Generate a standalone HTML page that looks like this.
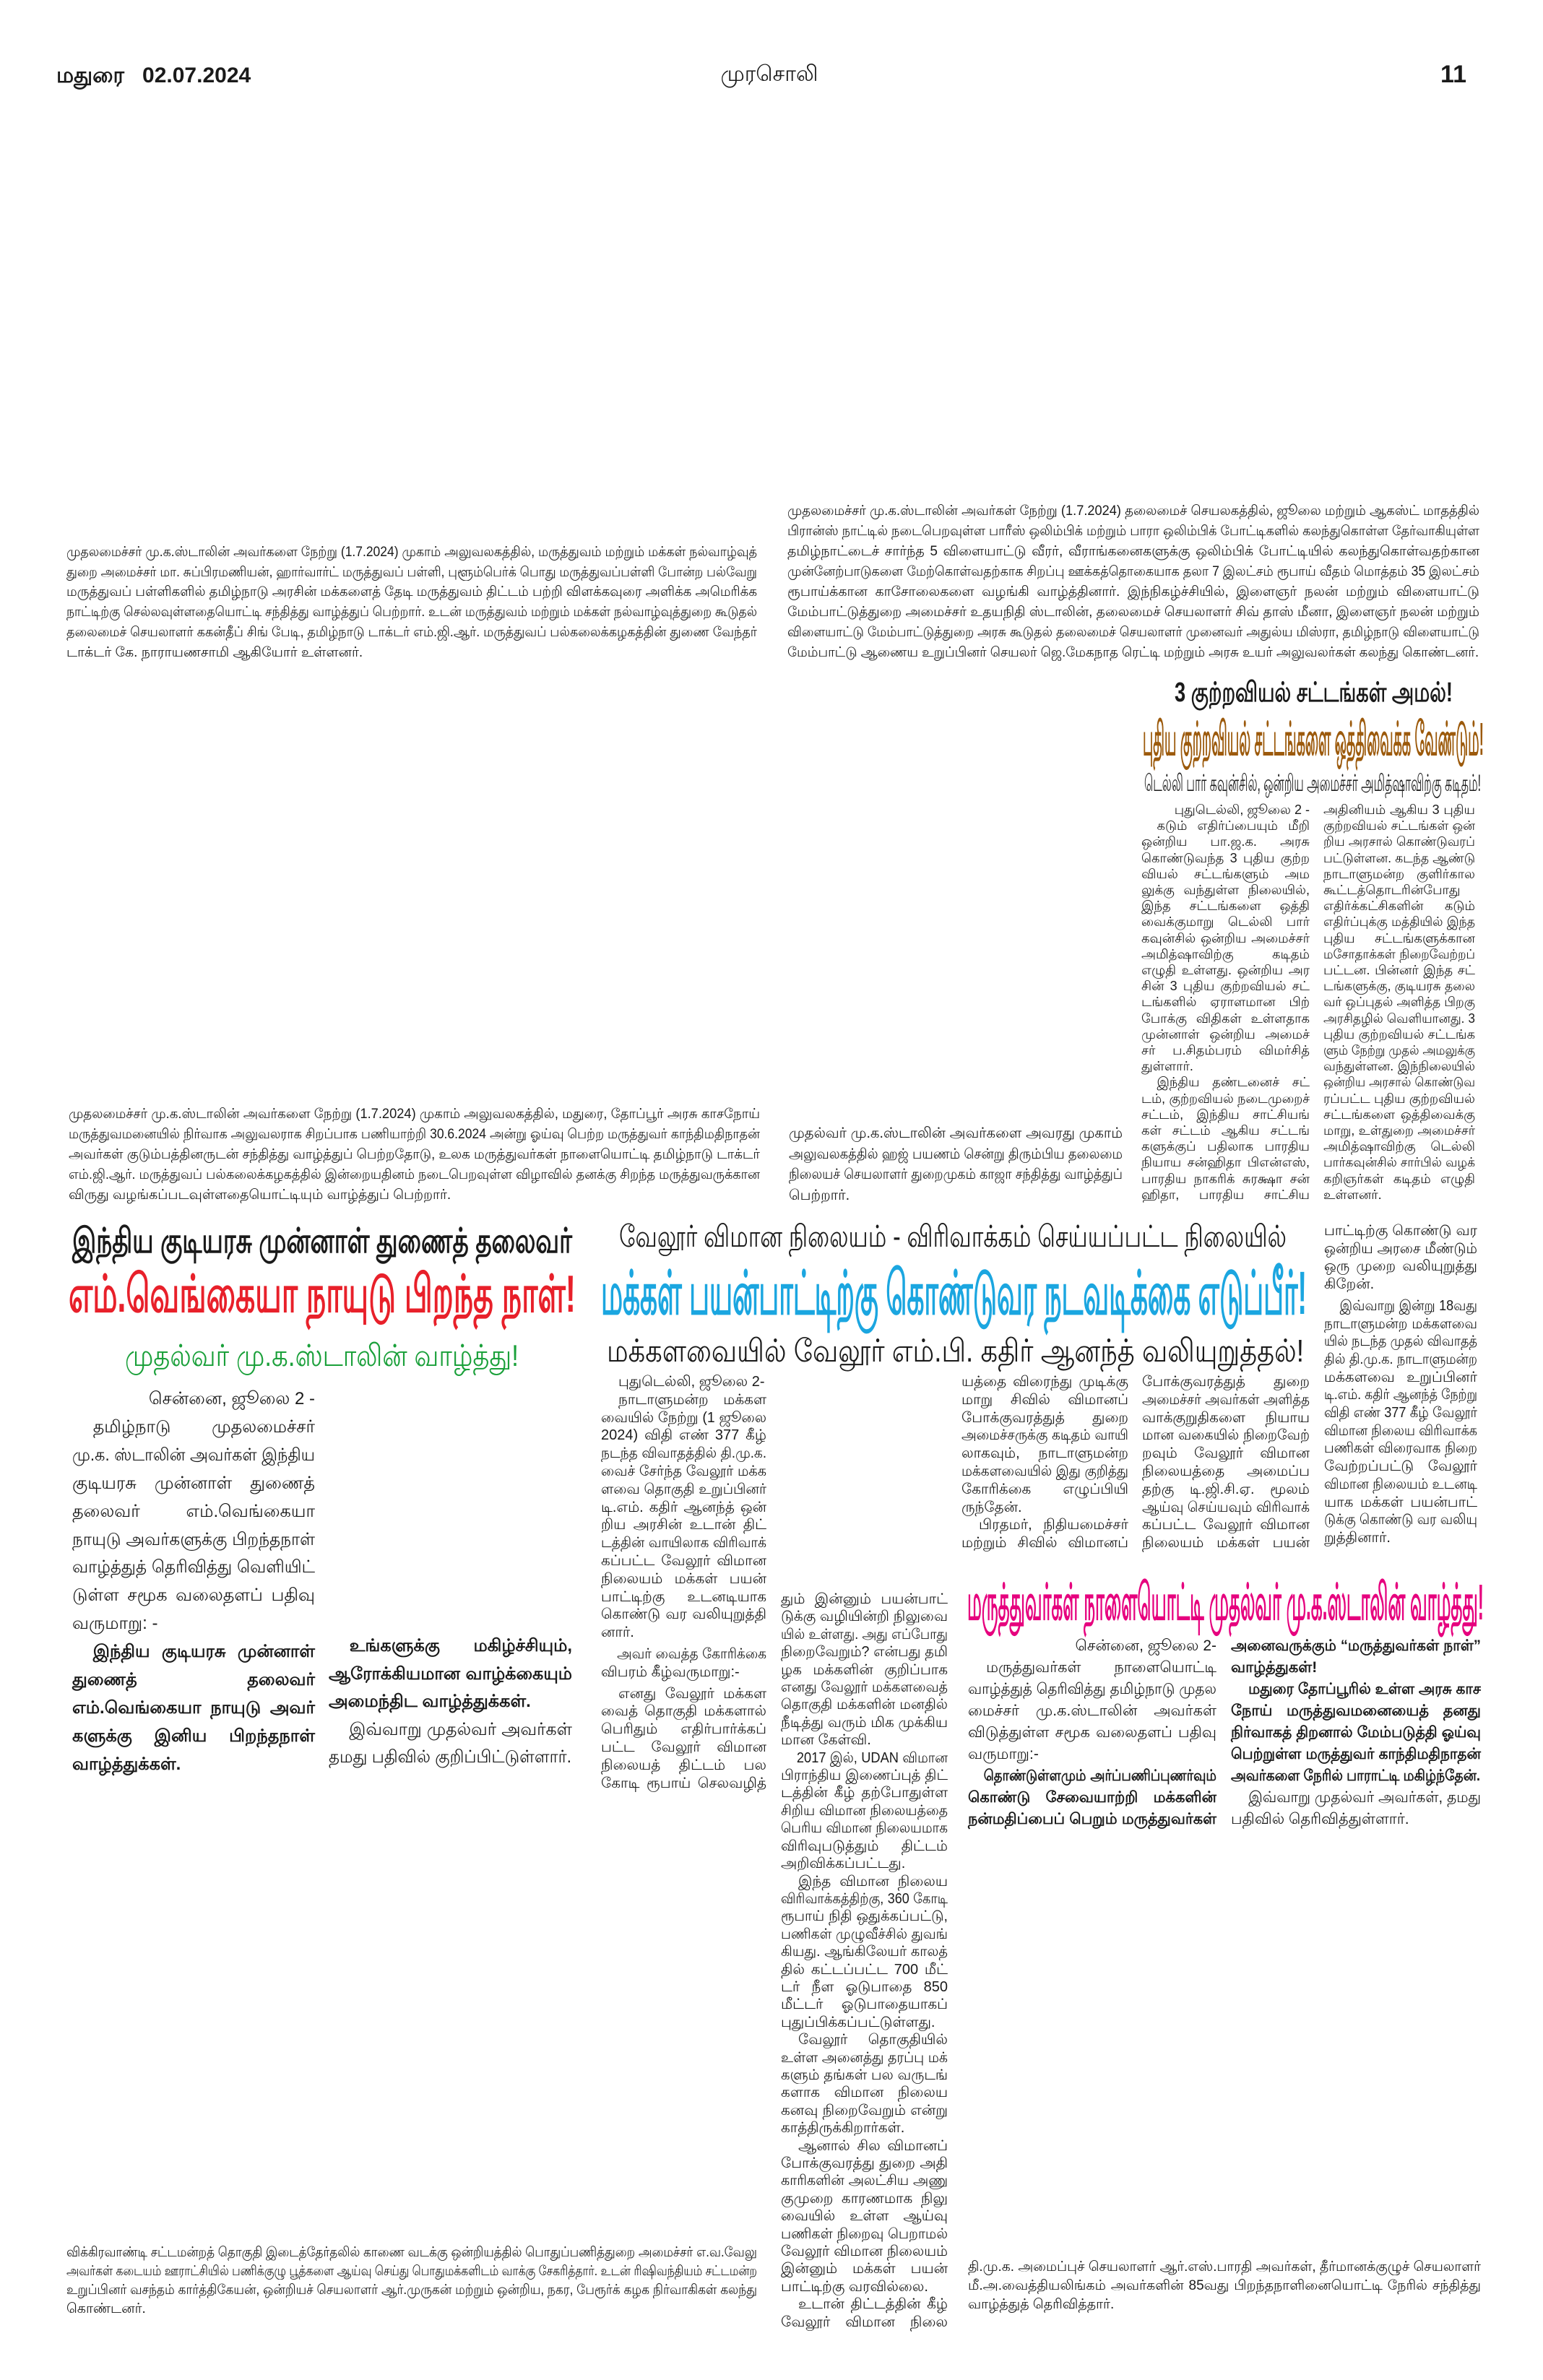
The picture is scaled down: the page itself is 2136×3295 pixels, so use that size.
<!DOCTYPE html>
<html><head><meta charset="utf-8">
<style>
html,body{margin:0;padding:0;background:#fff;}
body{width:2136px;height:3295px;position:relative;overflow:hidden;font-family:"Liberation Sans Narrow","Liberation Sans",sans-serif;color:#1a1a1a;}
.a{position:absolute;}
.b p{margin:0;white-space:nowrap;text-align:justify;text-align-last:justify;transform-origin:0 0;box-sizing:border-box;}
.b p.l{text-align-last:left;}
.b p.r{text-align-last:right;text-align:right;}
.b p.i{padding-left:1.2em;}
.h{position:absolute;white-space:nowrap;font-weight:bold;}
.h span{display:inline-block;transform-origin:0 50%;}
.bd{font-weight:bold;}
</style></head><body>

<div class="a" style="left:78px;top:88px;font-size:30px;font-weight:bold;">மதுரை&nbsp;&nbsp; 02.07.2024</div>
<div class="a" style="left:965px;top:86px;width:200px;text-align:center;font-size:30px;">முரசொலி</div>
<div class="a" style="left:1990px;top:84px;width:40px;text-align:right;font-size:34px;font-weight:bold;">11</div>

<div class="a b" style="left:92px;top:751px;width:956px;font-size:19px;line-height:27.7px;">
<p>முதலமைச்சர் மு.க.ஸ்டாலின் அவர்களை நேற்று (1.7.2024) முகாம் அலுவலகத்தில், மருத்துவம் மற்றும் மக்கள் நல்வாழ்வுத்</p>
<p>துறை அமைச்சர் மா. சுப்பிரமணியன், ஹார்வார்ட் மருத்துவப் பள்ளி, புளூம்பெர்க் பொது மருத்துவப்பள்ளி போன்ற பல்வேறு</p>
<p>மருத்துவப் பள்ளிகளில் தமிழ்நாடு அரசின் மக்களைத் தேடி மருத்துவம் திட்டம் பற்றி விளக்கவுரை அளிக்க அமெரிக்க</p>
<p>நாட்டிற்கு செல்லவுள்ளதையொட்டி சந்தித்து வாழ்த்துப் பெற்றார். உடன் மருத்துவம் மற்றும் மக்கள் நல்வாழ்வுத்துறை கூடுதல்</p>
<p>தலைமைச் செயலாளர் ககன்தீப் சிங் பேடி, தமிழ்நாடு டாக்டர் எம்.ஜி.ஆர். மருத்துவப் பல்கலைக்கழகத்தின் துணை வேந்தர்</p>
<p class="l">டாக்டர் கே. நாராயணசாமி ஆகியோர் உள்ளனர்.</p>
</div>

<div class="a b" style="left:1090px;top:694px;width:958px;font-size:19px;line-height:28px;">
<p>முதலமைச்சர் மு.க.ஸ்டாலின் அவர்கள் நேற்று (1.7.2024) தலைமைச் செயலகத்தில், ஜூலை மற்றும் ஆகஸ்ட் மாதத்தில்</p>
<p>பிரான்ஸ் நாட்டில் நடைபெறவுள்ள பாரீஸ் ஒலிம்பிக் மற்றும் பாரா ஒலிம்பிக் போட்டிகளில் கலந்துகொள்ள தேர்வாகியுள்ள</p>
<p>தமிழ்நாட்டைச் சார்ந்த 5 விளையாட்டு வீரர், வீராங்கனைகளுக்கு ஒலிம்பிக் போட்டியில் கலந்துகொள்வதற்கான</p>
<p>முன்னேற்பாடுகளை மேற்கொள்வதற்காக சிறப்பு ஊக்கத்தொகையாக தலா 7 இலட்சம் ரூபாய் வீதம் மொத்தம் 35 இலட்சம்</p>
<p>ரூபாய்க்கான காசோலைகளை வழங்கி வாழ்த்தினார். இந்நிகழ்ச்சியில், இளைஞர் நலன் மற்றும் விளையாட்டு</p>
<p>மேம்பாட்டுத்துறை அமைச்சர் உதயநிதி ஸ்டாலின், தலைமைச் செயலாளர் சிவ் தாஸ் மீனா, இளைஞர் நலன் மற்றும்</p>
<p>விளையாட்டு மேம்பாட்டுத்துறை அரசு கூடுதல் தலைமைச் செயலாளர் முனைவர் அதுல்ய மிஸ்ரா, தமிழ்நாடு விளையாட்டு</p>
<p class="l">மேம்பாட்டு ஆணைய உறுப்பினர் செயலர் ஜெ.மேகநாத ரெட்டி மற்றும் அரசு உயர் அலுவலர்கள் கலந்து கொண்டனர்.</p>
</div>

<div class="h" data-w="385" style="left:1626px;top:937px;font-size:38px;line-height:44px;"><span>3 குற்றவியல் சட்டங்கள் அமல்!</span></div>
<div class="h" data-w="472" style="left:1582px;top:986px;font-size:64px;line-height:74px;color:#9c5a0c;"><span>புதிய குற்றவியல் சட்டங்களை ஒத்திவைக்க வேண்டும்!</span></div>
<div class="h" data-w="466" style="left:1584px;top:1064px;font-size:32px;line-height:40px;font-weight:normal;"><span>டெல்லி பார் கவுன்சில், ஒன்றிய அமைச்சர் அமித்ஷாவிற்கு கடிதம்!</span></div>

<div class="a b" style="left:1580px;top:1110px;width:233px;font-size:18px;line-height:22.2px;">
<p class="r">புதுடெல்லி, ஜூலை 2 -</p>
<p class="i">கடும் எதிர்ப்பையும் மீறி</p>
<p>ஒன்றிய பா.ஜ.க. அரசு</p>
<p>கொண்டுவந்த 3 புதிய குற்ற</p>
<p>வியல் சட்டங்களும் அம</p>
<p>லுக்கு வந்துள்ள நிலையில்,</p>
<p>இந்த சட்டங்களை ஒத்தி</p>
<p>வைக்குமாறு டெல்லி பார்</p>
<p>கவுன்சில் ஒன்றிய அமைச்சர்</p>
<p>அமித்ஷாவிற்கு கடிதம்</p>
<p>எழுதி உள்ளது. ஒன்றிய அர</p>
<p>சின் 3 புதிய குற்றவியல் சட்</p>
<p>டங்களில் ஏராளமான பிற்</p>
<p>போக்கு விதிகள் உள்ளதாக</p>
<p>முன்னாள் ஒன்றிய அமைச்</p>
<p>சர் ப.சிதம்பரம் விமர்சித்</p>
<p class="l">துள்ளார்.</p>
<p class="i">இந்திய தண்டனைச் சட்</p>
<p>டம், குற்றவியல் நடைமுறைச்</p>
<p>சட்டம், இந்திய சாட்சியங்</p>
<p>கள் சட்டம் ஆகிய சட்டங்</p>
<p>களுக்குப் பதிலாக பாரதிய</p>
<p>நியாய சன்ஹிதா பிஎன்எஸ்,</p>
<p>பாரதிய நாகரிக் சுரக்ஷா சன்</p>
<p>ஹிதா, பாரதிய சாட்சிய</p>
</div>

<div class="a b" style="left:1832px;top:1110px;width:210px;font-size:18px;line-height:22.2px;">
<p>அதினியம் ஆகிய 3 புதிய</p>
<p>குற்றவியல் சட்டங்கள் ஒன்</p>
<p>றிய அரசால் கொண்டுவரப்</p>
<p>பட்டுள்ளன. கடந்த ஆண்டு</p>
<p>நாடாளுமன்ற குளிர்கால</p>
<p>கூட்டத்தொடரின்போது</p>
<p>எதிர்க்கட்சிகளின் கடும்</p>
<p>எதிர்ப்புக்கு மத்தியில் இந்த</p>
<p>புதிய சட்டங்களுக்கான</p>
<p>மசோதாக்கள் நிறைவேற்றப்</p>
<p>பட்டன. பின்னர் இந்த சட்</p>
<p>டங்களுக்கு, குடியரசு தலை</p>
<p>வர் ஒப்புதல் அளித்த பிறகு</p>
<p>அரசிதழில் வெளியானது. 3</p>
<p>புதிய குற்றவியல் சட்டங்க</p>
<p>ளும் நேற்று முதல் அமலுக்கு</p>
<p>வந்துள்ளன. இந்நிலையில்</p>
<p>ஒன்றிய அரசால் கொண்டுவ</p>
<p>ரப்பட்ட புதிய குற்றவியல்</p>
<p>சட்டங்களை ஒத்திவைக்கு</p>
<p>மாறு, உள்துறை அமைச்சர்</p>
<p>அமித்ஷாவிற்கு டெல்லி</p>
<p>பார்கவுன்சில் சார்பில் வழக்</p>
<p>கறிஞர்கள் கடிதம் எழுதி</p>
<p class="l">உள்ளனர்.</p>
</div>

<div class="a b" style="left:1092px;top:1555px;width:462px;font-size:20px;line-height:28.7px;">
<p>முதல்வர் மு.க.ஸ்டாலின் அவர்களை அவரது முகாம்</p>
<p>அலுவலகத்தில் ஹஜ் பயணம் சென்று திரும்பிய தலைமை</p>
<p>நிலையச் செயலாளர் துறைமுகம் காஜா சந்தித்து வாழ்த்துப்</p>
<p class="l">பெற்றார்.</p>
</div>

<div class="a b" style="left:95px;top:1529px;width:957px;font-size:19px;line-height:28px;">
<p>முதலமைச்சர் மு.க.ஸ்டாலின் அவர்களை நேற்று (1.7.2024) முகாம் அலுவலகத்தில், மதுரை, தோப்பூர் அரசு காசநோய்</p>
<p>மருத்துவமனையில் நிர்வாக அலுவலராக சிறப்பாக பணியாற்றி 30.6.2024 அன்று ஓய்வு பெற்ற மருத்துவர் காந்திமதிநாதன்</p>
<p>அவர்கள் குடும்பத்தினருடன் சந்தித்து வாழ்த்துப் பெற்றதோடு, உலக மருத்துவர்கள் நாளையொட்டி தமிழ்நாடு டாக்டர்</p>
<p>எம்.ஜி.ஆர். மருத்துவப் பல்கலைக்கழகத்தில் இன்றையதினம் நடைபெறவுள்ள விழாவில் தனக்கு சிறந்த மருத்துவருக்கான</p>
<p class="l">விருது வழங்கப்படவுள்ளதையொட்டியும் வாழ்த்துப் பெற்றார்.</p>
</div>

<div class="h" data-w="692" style="left:100px;top:1690px;font-size:48px;line-height:58px;"><span>இந்திய குடியரசு முன்னாள் துணைத் தலைவர்</span></div>
<div class="h" data-w="702" style="left:95px;top:1751px;font-size:72px;line-height:82px;color:#e8202a;"><span>எம்.வெங்கையா நாயுடு பிறந்த நாள்!</span></div>
<div class="h" data-w="545" style="left:173px;top:1850px;font-size:42px;line-height:54px;color:#1aa03a;font-weight:normal;"><span>முதல்வர் மு.க.ஸ்டாலின் வாழ்த்து!</span></div>

<div class="a b" style="left:100px;top:1918px;width:336px;font-size:24px;line-height:38.9px;">
<p class="r">சென்னை, ஜூலை 2 -</p>
<p class="i">தமிழ்நாடு முதலமைச்சர்</p>
<p>மு.க. ஸ்டாலின் அவர்கள் இந்திய</p>
<p>குடியரசு முன்னாள் துணைத்</p>
<p>தலைவர் எம்.வெங்கையா</p>
<p>நாயுடு அவர்களுக்கு பிறந்தநாள்</p>
<p>வாழ்த்துத் தெரிவித்து வெளியிட்</p>
<p>டுள்ள சமூக வலைதளப் பதிவு</p>
<p class="l">வருமாறு: -</p>
<p class="i bd">இந்திய குடியரசு முன்னாள்</p>
<p class="bd">துணைத் தலைவர்</p>
<p class="bd">எம்.வெங்கையா நாயுடு அவர்</p>
<p class="bd">களுக்கு இனிய பிறந்தநாள்</p>
<p class="bd l">வாழ்த்துக்கள்.</p>
</div>

<div class="a b" style="left:455px;top:2260px;width:337px;font-size:24px;line-height:38.6px;">
<p class="i bd">உங்களுக்கு மகிழ்ச்சியும்,</p>
<p class="bd">ஆரோக்கியமான வாழ்க்கையும்</p>
<p class="bd l">அமைந்திட வாழ்த்துக்கள்.</p>
<p class="i">இவ்வாறு முதல்வர் அவர்கள்</p>
<p class="l">தமது பதிவில் குறிப்பிட்டுள்ளார்.</p>
</div>

<div class="h" data-w="924" style="left:857px;top:1687px;font-size:42px;line-height:50px;font-weight:normal;"><span>வேலூர் விமான நிலையம் - விரிவாக்கம் செய்யப்பட்ட நிலையில்</span></div>
<div class="h" data-w="977" style="left:832px;top:1742px;font-size:84px;line-height:96px;color:#1ba6e0;"><span>மக்கள் பயன்பாட்டிற்கு கொண்டுவர நடவடிக்கை எடுப்பீர்!</span></div>
<div class="h" data-w="965" style="left:840px;top:1845px;font-size:44px;line-height:52px;font-weight:normal;"><span>மக்களவையில் வேலூர் எம்.பி. கதிர் ஆனந்த் வலியுறுத்தல்!</span></div>

<div class="a b" style="left:832px;top:1901px;width:229px;font-size:20px;line-height:24.8px;">
<p class="i l">புதுடெல்லி, ஜூலை 2-</p>
<p class="i">நாடாளுமன்ற மக்கள</p>
<p>வையில் நேற்று (1 ஜூலை</p>
<p>2024) விதி எண் 377 கீழ்</p>
<p>நடந்த விவாதத்தில் தி.மு.க.</p>
<p>வைச் சேர்ந்த வேலூர் மக்க</p>
<p>ளவை தொகுதி உறுப்பினர்</p>
<p>டி.எம். கதிர் ஆனந்த் ஒன்</p>
<p>றிய அரசின் உடான் திட்</p>
<p>டத்தின் வாயிலாக விரிவாக்</p>
<p>கப்பட்ட வேலூர் விமான</p>
<p>நிலையம் மக்கள் பயன்</p>
<p>பாட்டிற்கு உடனடியாக</p>
<p>கொண்டு வர வலியுறுத்தி</p>
<p class="l">னார்.</p>
<p class="i" style="margin-top:5px">அவர் வைத்த கோரிக்கை</p>
<p class="l">விபரம் கீழ்வருமாறு:-</p>
<p class="i" style="margin-top:5px">எனது வேலூர் மக்கள</p>
<p>வைத் தொகுதி மக்களால்</p>
<p>பெரிதும் எதிர்பார்க்கப்</p>
<p>பட்ட வேலூர் விமான</p>
<p>நிலையத் திட்டம் பல</p>
<p>கோடி ரூபாய் செலவழித்</p>
</div>

<div class="a b" style="left:1081px;top:2202px;width:231px;font-size:20px;line-height:24.4px;">
<p>தும் இன்னும் பயன்பாட்</p>
<p>டுக்கு வழியின்றி நிலுவை</p>
<p>யில் உள்ளது. அது எப்போது</p>
<p>நிறைவேறும்? என்பது தமி</p>
<p>ழக மக்களின் குறிப்பாக</p>
<p>எனது வேலூர் மக்களவைத்</p>
<p>தொகுதி மக்களின் மனதில்</p>
<p>நீடித்து வரும் மிக முக்கிய</p>
<p class="l">மான கேள்வி.</p>
<p class="i">2017 இல், UDAN விமான</p>
<p>பிராந்திய இணைப்புத் திட்</p>
<p>டத்தின் கீழ் தற்போதுள்ள</p>
<p>சிறிய விமான நிலையத்தை</p>
<p>பெரிய விமான நிலையமாக</p>
<p>விரிவுபடுத்தும் திட்டம்</p>
<p class="l">அறிவிக்கப்பட்டது.</p>
<p class="i">இந்த விமான நிலைய</p>
<p>விரிவாக்கத்திற்கு, 360 கோடி</p>
<p>ரூபாய் நிதி ஒதுக்கப்பட்டு,</p>
<p>பணிகள் முழுவீச்சில் துவங்</p>
<p>கியது. ஆங்கிலேயர் காலத்</p>
<p>தில் கட்டப்பட்ட 700 மீட்</p>
<p>டர் நீள ஓடுபாதை 850</p>
<p>மீட்டர் ஓடுபாதையாகப்</p>
<p class="l">புதுப்பிக்கப்பட்டுள்ளது.</p>
<p class="i">வேலூர் தொகுதியில்</p>
<p>உள்ள அனைத்து தரப்பு மக்</p>
<p>களும் தங்கள் பல வருடங்</p>
<p>களாக விமான நிலைய</p>
<p>கனவு நிறைவேறும் என்று</p>
<p class="l">காத்திருக்கிறார்கள்.</p>
<p class="i">ஆனால் சில விமானப்</p>
<p>போக்குவரத்து துறை அதி</p>
<p>காரிகளின் அலட்சிய அணு</p>
<p>குமுறை காரணமாக நிலு</p>
<p>வையில் உள்ள ஆய்வு</p>
<p>பணிகள் நிறைவு பெறாமல்</p>
<p>வேலூர் விமான நிலையம்</p>
<p>இன்னும் மக்கள் பயன்</p>
<p class="l">பாட்டிற்கு வரவில்லை.</p>
<p class="i">உடான் திட்டத்தின் கீழ்</p>
<p>வேலூர் விமான நிலை</p>
</div>

<div class="a b" style="left:1331px;top:1901px;width:231px;font-size:20px;line-height:24.8px;">
<p>யத்தை விரைந்து முடிக்கு</p>
<p>மாறு சிவில் விமானப்</p>
<p>போக்குவரத்துத் துறை</p>
<p>அமைச்சருக்கு கடிதம் வாயி</p>
<p>லாகவும், நாடாளுமன்ற</p>
<p>மக்களவையில் இது குறித்து</p>
<p>கோரிக்கை எழுப்பியி</p>
<p class="l">ருந்தேன்.</p>
<p class="i">பிரதமர், நிதியமைச்சர்</p>
<p>மற்றும் சிவில் விமானப்</p>
</div>

<div class="a b" style="left:1581px;top:1901px;width:232px;font-size:20px;line-height:24.8px;">
<p>போக்குவரத்துத் துறை</p>
<p>அமைச்சர் அவர்கள் அளித்த</p>
<p>வாக்குறுதிகளை நியாய</p>
<p>மான வகையில் நிறைவேற்</p>
<p>றவும் வேலூர் விமான</p>
<p>நிலையத்தை அமைப்ப</p>
<p>தற்கு டி.ஜி.சி.ஏ. மூலம்</p>
<p>ஆய்வு செய்யவும் விரிவாக்</p>
<p>கப்பட்ட வேலூர் விமான</p>
<p>நிலையம் மக்கள் பயன்</p>
</div>

<div class="a b" style="left:1833px;top:1692px;width:212px;font-size:20px;line-height:24.7px;">
<p>பாட்டிற்கு கொண்டு வர</p>
<p>ஒன்றிய அரசை மீண்டும்</p>
<p>ஒரு முறை வலியுறுத்து</p>
<p class="l">கிறேன்.</p>
<p class="i" style="margin-top:5px">இவ்வாறு இன்று 18வது</p>
<p>நாடாளுமன்ற மக்களவை</p>
<p>யில் நடந்த முதல் விவாதத்</p>
<p>தில் தி.மு.க. நாடாளுமன்ற</p>
<p>மக்களவை உறுப்பினர்</p>
<p>டி.எம். கதிர் ஆனந்த் நேற்று</p>
<p>விதி எண் 377 கீழ் வேலூர்</p>
<p>விமான நிலைய விரிவாக்க</p>
<p>பணிகள் விரைவாக நிறை</p>
<p>வேற்றப்பட்டு வேலூர்</p>
<p>விமான நிலையம் உடனடி</p>
<p>யாக மக்கள் பயன்பாட்</p>
<p>டுக்கு கொண்டு வர வலியு</p>
<p class="l">றுத்தினார்.</p>
</div>

<div class="h" data-w="715" style="left:1339px;top:2175px;font-size:70px;line-height:86px;color:#e6007e;"><span>மருத்துவர்கள் நாளையொட்டி முதல்வர் மு.க.ஸ்டாலின் வாழ்த்து!</span></div>

<div class="a b" style="left:1340px;top:2264px;width:344px;font-size:21px;line-height:30px;">
<p class="r">சென்னை, ஜூலை 2-</p>
<p class="i">மருத்துவர்கள் நாளையொட்டி</p>
<p>வாழ்த்துத் தெரிவித்து தமிழ்நாடு முதல</p>
<p>மைச்சர் மு.க.ஸ்டாலின் அவர்கள்</p>
<p>விடுத்துள்ள சமூக வலைதளப் பதிவு</p>
<p class="l">வருமாறு:-</p>
<p class="i bd">தொண்டுள்ளமும் அர்ப்பணிப்புணர்வும்</p>
<p class="bd">கொண்டு சேவையாற்றி மக்களின்</p>
<p class="bd">நன்மதிப்பைப் பெறும் மருத்துவர்கள்</p>
</div>

<div class="a b" style="left:1704px;top:2264px;width:346px;font-size:21px;line-height:30px;">
<p class="bd">அனைவருக்கும் “மருத்துவர்கள் நாள்”</p>
<p class="bd l">வாழ்த்துகள்!</p>
<p class="i bd">மதுரை தோப்பூரில் உள்ள அரசு காச</p>
<p class="bd">நோய் மருத்துவமனையைத் தனது</p>
<p class="bd">நிர்வாகத் திறனால் மேம்படுத்தி ஓய்வு</p>
<p class="bd">பெற்றுள்ள மருத்துவர் காந்திமதிநாதன்</p>
<p class="bd l">அவர்களை நேரில் பாராட்டி மகிழ்ந்தேன்.</p>
<p class="i">இவ்வாறு முதல்வர் அவர்கள், தமது</p>
<p class="l">பதிவில் தெரிவித்துள்ளார்.</p>
</div>

<div class="a b" style="left:92px;top:3106px;width:956px;font-size:19px;line-height:26px;">
<p>விக்கிரவாண்டி சட்டமன்றத் தொகுதி இடைத்தேர்தலில் காணை வடக்கு ஒன்றியத்தில் பொதுப்பணித்துறை அமைச்சர் எ.வ.வேலு</p>
<p>அவர்கள் கடையம் ஊராட்சியில் பணிக்குழு பூத்களை ஆய்வு செய்து பொதுமக்களிடம் வாக்கு சேகரித்தார். உடன் ரிஷிவந்தியம் சட்டமன்ற</p>
<p>உறுப்பினர் வசந்தம் கார்த்திகேயன், ஒன்றியச் செயலாளர் ஆர்.முருகன் மற்றும் ஒன்றிய, நகர, பேரூர்க் கழக நிர்வாகிகள் கலந்து</p>
<p class="l">கொண்டனர்.</p>
</div>

<div class="a b" style="left:1340px;top:3126px;width:710px;font-size:19px;line-height:26px;">
<p>தி.மு.க. அமைப்புச் செயலாளர் ஆர்.எஸ்.பாரதி அவர்கள், தீர்மானக்குழுச் செயலாளர்</p>
<p>மீ.அ.வைத்தியலிங்கம் அவர்களின் 85வது பிறந்தநாளினையொட்டி நேரில் சந்தித்து</p>
<p class="l">வாழ்த்துத் தெரிவித்தார்.</p>
</div>

<script>
(function(){
  var ps=document.querySelectorAll('.b p');
  for(var i=0;i<ps.length;i++){
    var p=ps[i];
    var W=p.parentNode.clientWidth;
    var cs=getComputedStyle(p);
    var pad=parseFloat(cs.paddingLeft)||0;
    var s=document.createElement('span');
    s.style.whiteSpace='nowrap';
    while(p.firstChild)s.appendChild(p.firstChild);
    p.appendChild(s);
    var w=s.getBoundingClientRect().width+pad;
    while(s.firstChild)p.appendChild(s.firstChild);
    p.removeChild(s);
    if(w>W){
      p.style.width=(w+1)+'px';
      p.style.transform='scaleX('+(W/(w+1))+')';
    }
  }
  var hs=document.querySelectorAll('.h');
  for(var j=0;j<hs.length;j++){
    var h=hs[j],sp=h.querySelector('span');
    var tw=parseFloat(h.getAttribute('data-w'));
    var ww=sp.getBoundingClientRect().width;
    if(ww>0)sp.style.transform='scaleX('+(tw/ww)+')';
  }
})();
</script>
</body></html>
